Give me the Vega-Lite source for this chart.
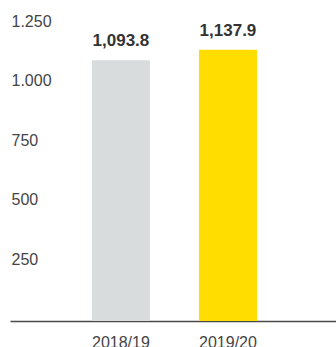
{
  "$schema": "https://vega.github.io/schema/vega-lite/v6.json",
  "autosize": "none",
  "width": 326,
  "height": 298,
  "padding": {"left": 10, "top": 23, "right": 0, "bottom": 26},
  "background": "white",
  "config": {"view": {"stroke": null}, "font": "Liberation Sans"},
  "data": {"values": [
    {"year": "2018/19", "value": 1093.8, "label": "1,093.8"},
    {"year": "2019/20", "value": 1137.9, "label": "1,137.9"}
  ]},
  "encoding": {
    "x": {"field": "year", "type": "nominal", "sort": null,
      "scale": {"paddingInner": 0.458, "paddingOuter": 0.752, "align": 0.509},
      "axis": {"title": null, "labelAngle": 0, "ticks": false, "domain": true, "domainColor": "#4a4a4a", "domainWidth": 1.3, "labelFontSize": 16, "labelColor": "#444", "labelBaseline": "top", "labelPadding": 13, "grid": false}},
    "y": {"field": "value", "type": "quantitative",
      "scale": {"domain": [0, 1250], "nice": false},
      "axis": {"title": null, "values": [250, 500, 750, 1000, 1250], "format": ",d", "labelExpr": "replace(datum.label, ',', '.')", "ticks": false, "domain": false, "grid": false, "labelAlign": "left", "labelPadding": -1, "labelFontSize": 16, "labelColor": "#444", "labelOffset": -2, "labelBaseline": "middle"}}
  },
  "layer": [
    {"mark": {"type": "bar"},
     "encoding": {"color": {"field": "year", "type": "nominal", "scale": {"domain": ["2018/19", "2019/20"], "range": ["#d9dcdd", "#ffdd00"]}, "legend": null}}},
    {"mark": {"type": "text", "dy": -19, "baseline": "middle", "fontSize": 17, "fontWeight": "bold", "color": "#333"},
     "encoding": {"text": {"field": "label"}}}
  ]
}
